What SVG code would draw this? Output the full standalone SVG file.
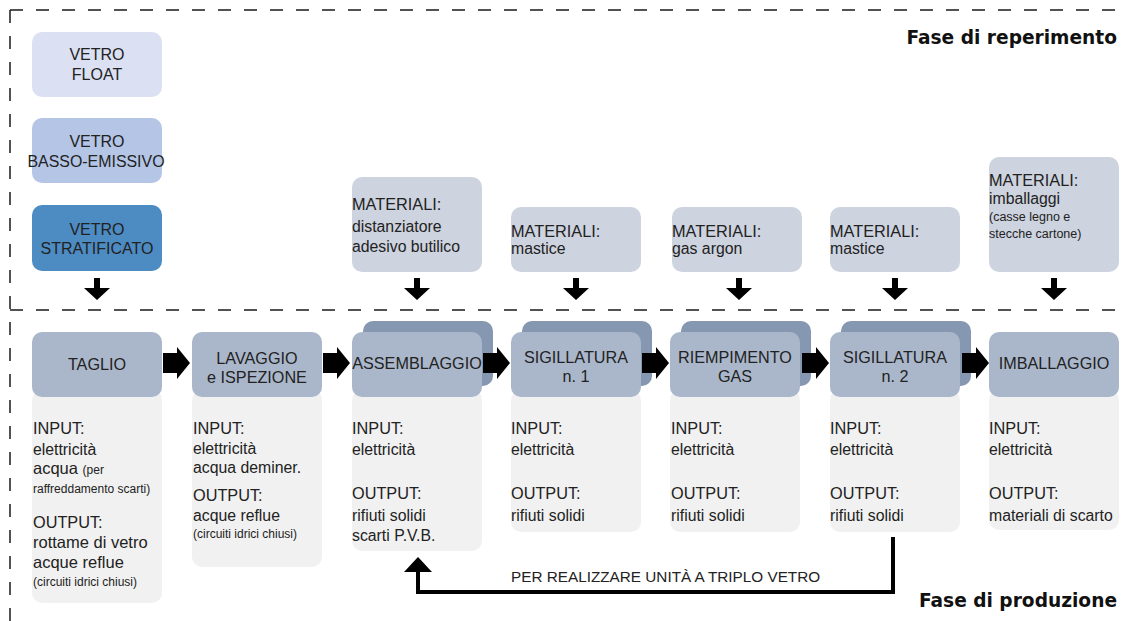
<svg xmlns="http://www.w3.org/2000/svg" width="1134" height="621" viewBox="0 0 1134 621">
  <defs>
    <style>
      .t { font-family: "Liberation Sans", Arial, sans-serif; fill: #222; }
      .lbl { font-size: 16.3px; }
      .det { font-size: 15.8px; }
      .big { font-size: 16.5px; }
      .sm { font-size: 12px; }
      .hdr { font-size: 16.2px; text-anchor: middle; }
      .vt { font-size: 16px; text-anchor: middle; }
      .phase { font-family: "DejaVu Sans", sans-serif; font-weight: bold; font-size: 18.6px; fill: #111; text-anchor: end; }
      .dash { stroke: #1a1a1a; stroke-width: 1.5; stroke-dasharray: 13 13; fill: none; }
      .front { fill: #aab7cb; }
      .back { fill: #8597b1; }
      .body { fill: #f1f1f1; }
      .mat { fill: #cdd3df; }
      .arr { fill: #000; }
    </style>
    <path id="harrow" d="M0,-10 H14 V-16 L27,0 L14,16 V10 H0 Z"/>
    <path id="darrow" d="M-3,0 V10 H-13 L0,22 L13,10 H3 V0 Z"/>
  </defs>
  <rect width="1134" height="621" fill="#fff"/>

  <g id="frame">
    <path class="dash" d="M10,10 H1122"/>
    <path class="dash" d="M10,10 V621"/>
    <path class="dash" d="M10,310 H1122"/>
    <text class="phase" x="1117" y="44">Fase di reperimento</text>
    <text class="phase" x="1117" y="607">Fase di produzione</text>
  </g>

  <g id="vetro-float">
    <rect x="32" y="32" width="130" height="65" rx="10" fill="#dbe1f2"/>
    <text class="t vt" x="97" y="60">VETRO</text>
    <text class="t vt" x="97" y="80">FLOAT</text>
  </g>
  <g id="vetro-basso">
    <rect x="32" y="118" width="130" height="65" rx="10" fill="#b4c5e6"/>
    <text class="t vt" x="97" y="147">VETRO</text>
    <text class="t vt" x="96" y="167" textLength="137" lengthAdjust="spacingAndGlyphs">BASSO-EMISSIVO</text>
  </g>
  <g id="vetro-strat">
    <rect x="32" y="205" width="130" height="66" rx="10" fill="#4d8bc3"/>
    <text class="t vt" x="97" y="235">VETRO</text>
    <text class="t vt" x="97" y="254">STRATIFICATO</text>
  </g>

  <g id="mat-assemblaggio">
    <rect class="mat" x="352" y="177" width="130" height="95" rx="10"/>
    <text class="t lbl" x="352" y="210">MATERIALI:</text>
    <text class="t det" x="352" y="232">distanziatore</text>
    <text class="t det" x="352" y="252">adesivo butilico</text>
  </g>
  <g id="mat-sig1">
    <rect class="mat" x="511" y="207" width="130" height="65" rx="10"/>
    <text class="t lbl" x="511" y="237">MATERIALI:</text>
    <text class="t det" x="511" y="254">mastice</text>
  </g>
  <g id="mat-gas">
    <rect class="mat" x="672" y="207" width="130" height="65" rx="10"/>
    <text class="t lbl" x="672" y="237">MATERIALI:</text>
    <text class="t det" x="672" y="254">gas argon</text>
  </g>
  <g id="mat-sig2">
    <rect class="mat" x="830" y="207" width="130" height="65" rx="10"/>
    <text class="t lbl" x="830" y="237">MATERIALI:</text>
    <text class="t det" x="830" y="254">mastice</text>
  </g>
  <g id="mat-imb">
    <rect class="mat" x="989" y="157" width="130" height="115" rx="10"/>
    <text class="t lbl" x="989" y="186">MATERIALI:</text>
    <text class="t det" x="989" y="204">imballaggi</text>
    <text class="t" x="989" y="221" style="font-size:12.5px">(casse legno e</text>
    <text class="t" x="989" y="238" style="font-size:12.5px">stecche cartone)</text>
  </g>

  <g id="taglio">
    <rect class="body" x="32" y="390" width="130" height="213" rx="10"/>
    <rect class="front" x="32" y="332" width="130" height="65" rx="10"/>
    <text class="t hdr" x="97" y="370">TAGLIO</text>
    <text class="t lbl" x="33" y="434">INPUT:</text>
    <text class="t det" x="33" y="455">elettricità</text>
    <text class="t big" x="33" y="474">acqua <tspan class="sm">(per</tspan></text>
    <text class="t sm" x="33" y="493">raffreddamento scarti)</text>
    <text class="t lbl" x="33" y="528">OUTPUT:</text>
    <text class="t big" x="33" y="548">rottame di vetro</text>
    <text class="t big" x="33" y="568">acque reflue</text>
    <text class="t sm" x="33" y="586">(circuiti idrici chiusi)</text>
  </g>

  <g id="lavaggio">
    <rect class="body" x="192" y="390" width="130" height="177" rx="10"/>
    <rect class="front" x="192" y="332" width="130" height="65" rx="10"/>
    <text class="t hdr" x="257" y="364">LAVAGGIO</text>
    <text class="t hdr" x="257" y="383">e ISPEZIONE</text>
    <text class="t lbl" x="193" y="434">INPUT:</text>
    <text class="t det" x="193" y="454">elettricità</text>
    <text class="t det" x="193" y="473">acqua deminer.</text>
    <text class="t lbl" x="193" y="501">OUTPUT:</text>
    <text class="t det" x="193" y="521">acque reflue</text>
    <text class="t sm" x="193" y="538">(circuiti idrici chiusi)</text>
  </g>

  <g id="assemblaggio">
    <rect class="back" x="363" y="321" width="130" height="65" rx="10"/>
    <rect class="body" x="352" y="390" width="130" height="161" rx="10"/>
    <rect class="front" x="352" y="332" width="130" height="65" rx="10"/>
    <text class="t hdr" x="417" y="369">ASSEMBLAGGIO</text>
    <text class="t lbl" x="352" y="434">INPUT:</text>
    <text class="t det" x="352" y="455">elettricità</text>
    <text class="t lbl" x="352" y="499">OUTPUT:</text>
    <text class="t det" x="352" y="521">rifiuti solidi</text>
    <text class="t det" x="352" y="541">scarti P.V.B.</text>
  </g>

  <g id="sigillatura1">
    <rect class="back" x="522" y="321" width="130" height="65" rx="10"/>
    <rect class="body" x="511" y="390" width="130" height="142" rx="10"/>
    <rect class="front" x="511" y="332" width="130" height="65" rx="10"/>
    <text class="t hdr" x="576" y="363">SIGILLATURA</text>
    <text class="t hdr" x="576" y="382">n. 1</text>
    <text class="t lbl" x="511" y="434">INPUT:</text>
    <text class="t det" x="511" y="455">elettricità</text>
    <text class="t lbl" x="511" y="499">OUTPUT:</text>
    <text class="t det" x="511" y="521">rifiuti solidi</text>
  </g>

  <g id="riempimento">
    <rect class="back" x="681" y="321" width="130" height="65" rx="10"/>
    <rect class="body" x="670" y="390" width="130" height="142" rx="10"/>
    <rect class="front" x="670" y="332" width="130" height="65" rx="10"/>
    <text class="t hdr" x="735" y="363">RIEMPIMENTO</text>
    <text class="t hdr" x="735" y="382">GAS</text>
    <text class="t lbl" x="671" y="434">INPUT:</text>
    <text class="t det" x="671" y="455">elettricità</text>
    <text class="t lbl" x="671" y="499">OUTPUT:</text>
    <text class="t det" x="671" y="521">rifiuti solidi</text>
  </g>

  <g id="sigillatura2">
    <rect class="back" x="841" y="321" width="130" height="65" rx="10"/>
    <rect class="body" x="830" y="390" width="130" height="142" rx="10"/>
    <rect class="front" x="830" y="332" width="130" height="65" rx="10"/>
    <text class="t hdr" x="895" y="363">SIGILLATURA</text>
    <text class="t hdr" x="895" y="382">n. 2</text>
    <text class="t lbl" x="830" y="434">INPUT:</text>
    <text class="t det" x="830" y="455">elettricità</text>
    <text class="t lbl" x="830" y="499">OUTPUT:</text>
    <text class="t det" x="830" y="521">rifiuti solidi</text>
  </g>

  <g id="imballaggio">
    <rect class="body" x="989" y="390" width="130" height="140" rx="10"/>
    <rect class="front" x="989" y="332" width="130" height="65" rx="10"/>
    <text class="t hdr" x="1054" y="369">IMBALLAGGIO</text>
    <text class="t lbl" x="989" y="434">INPUT:</text>
    <text class="t det" x="989" y="455">elettricità</text>
    <text class="t lbl" x="989" y="499">OUTPUT:</text>
    <text class="t det" x="989" y="521">materiali di scarto</text>
  </g>

  <g id="connectors">
    <use href="#darrow" class="arr" x="97" y="278"/>
    <use href="#darrow" class="arr" x="417" y="278"/>
    <use href="#darrow" class="arr" x="576" y="278"/>
    <use href="#darrow" class="arr" x="739" y="278"/>
    <use href="#darrow" class="arr" x="895" y="278"/>
    <use href="#darrow" class="arr" x="1054" y="278"/>

    <use href="#harrow" class="arr" x="163" y="363"/>
    <use href="#harrow" class="arr" x="323" y="363"/>
    <use href="#harrow" class="arr" x="483" y="363"/>
    <use href="#harrow" class="arr" x="642" y="363"/>
    <use href="#harrow" class="arr" x="802" y="363"/>
    <use href="#harrow" class="arr" x="962" y="363"/>

    <path d="M893,537 V592 H418 V572" fill="none" stroke="#000" stroke-width="4"/>
    <polygon points="404,572 432,572 418,557" fill="#000"/>
    <text class="t" x="511" y="582" style="font-size:15.3px">PER REALIZZARE UNITÀ A TRIPLO VETRO</text>
  </g>
</svg>
